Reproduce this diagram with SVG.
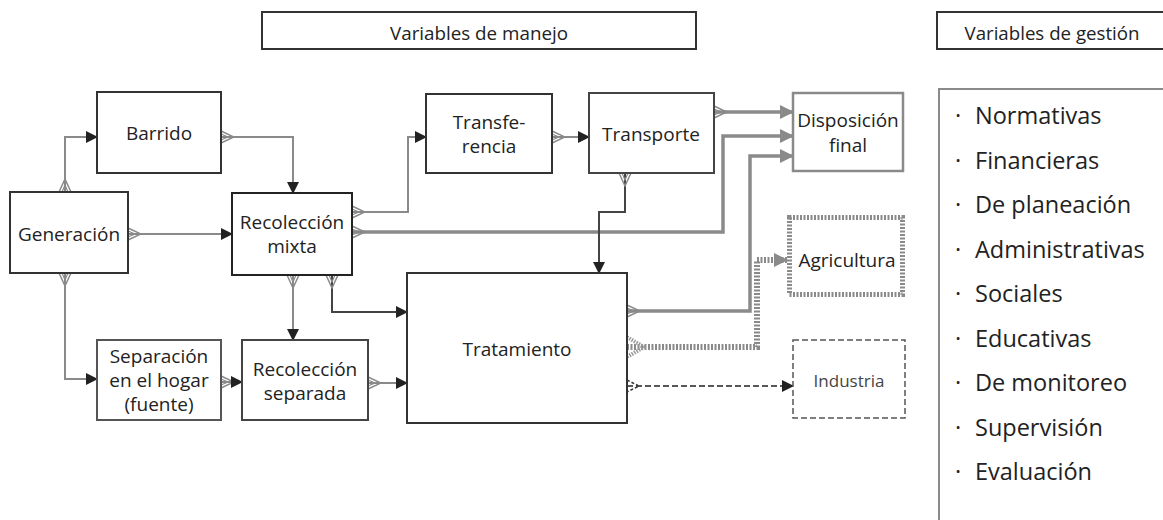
<svg xmlns="http://www.w3.org/2000/svg" width="1163" height="520" viewBox="0 0 1163 520">
<style>
text{font-family:"Open Sans","Noto Sans","Liberation Sans",sans-serif;fill:#222;}
.n{font-size:19px;text-anchor:middle;}
.hd{font-size:19px;text-anchor:middle;}
.li{font-size:23.5px;}
.box{fill:#fff;stroke:#333;stroke-width:2;}
.ln{fill:none;stroke:#8a8a8a;stroke-width:2;marker-start:url(#open);marker-end:url(#ab);}
.dk{fill:none;stroke:#444;stroke-width:2;marker-start:url(#open);marker-end:url(#ab);}
.th{fill:none;stroke:#8a8a8a;stroke-width:3.5;marker-end:url(#ag);}
</style>
<defs>
<marker id="ab" markerUnits="userSpaceOnUse" viewBox="0 0 12 12" markerWidth="12" markerHeight="12" refX="11" refY="6" orient="auto"><path d="M0,0 L12,6 L0,12 z" fill="#222"/></marker>
<marker id="ag" markerUnits="userSpaceOnUse" viewBox="0 0 14 14" markerWidth="14" markerHeight="14" refX="13" refY="7" orient="auto"><path d="M0,0 L14,7 L0,14 z" fill="#8a8a8a"/></marker>
<marker id="open" markerUnits="userSpaceOnUse" viewBox="-1 -1 15 14" markerWidth="15" markerHeight="14" refX="0" refY="6" orient="auto"><path d="M0,0 L13,6 L0,12" fill="none" stroke="#8a8a8a" stroke-width="1.5"/><path d="M0,3 L7,6 L0,9" fill="none" stroke="#8a8a8a" stroke-width="1.2"/></marker>
<marker id="openHatch" markerUnits="userSpaceOnUse" viewBox="-1 -1 20 22" markerWidth="20" markerHeight="22" refX="0" refY="10" orient="auto"><path d="M0,0 L17,10 L0,20" fill="none" stroke="#9a9a9a" stroke-width="4" stroke-dasharray="1.5 1.2"/></marker>
<marker id="openDash" markerUnits="userSpaceOnUse" viewBox="-1 -1 15 14" markerWidth="15" markerHeight="14" refX="0" refY="6" orient="auto"><path d="M0,0 L12,6 L0,12" fill="none" stroke="#333" stroke-width="1.5" stroke-dasharray="3 2"/></marker>
</defs>

<g id="header-manejo">
<rect x="262" y="12" width="434" height="37" fill="#fff" stroke="#333" stroke-width="2"/>
<text class="hd" x="479" y="40" textLength="178" lengthAdjust="spacingAndGlyphs">Variables de manejo</text>
</g>
<g id="header-gestion">
<rect x="937" y="12" width="230" height="37" fill="#fff" stroke="#333" stroke-width="2"/>
<text class="hd" x="1052" y="40" textLength="175" lengthAdjust="spacingAndGlyphs">Variables de gestión</text>
</g>

<g id="connectors">
<path class="ln" d="M65,192 V137 H97"/>
<path class="ln" d="M221,137 H293 V193"/>
<path class="ln" d="M128,234 H232"/>
<path class="ln" d="M65,273 V379 H97"/>
<path class="ln" d="M352,212 H408 V137 H426" stroke="#a0a0a0"/>
<path class="th" d="M352,232 H723 V136 H793" style="marker-start:url(#open)"/>
<path class="ln" d="M552,137 H589"/>
<path class="th" d="M714,112 H793" style="marker-start:url(#open)"/>
<path class="dk" d="M625,173 V212 H599 V273"/>
<path class="ln" d="M293,275 V340"/>
<path class="dk" d="M332,275 V312 H407"/>
<path class="ln" d="M221,382 H242"/>
<path class="ln" d="M368,383 H407"/>
<path class="th" d="M627,311 H750 V156 H793" style="marker-start:url(#open)"/>
<path d="M627,347 H757 V260 H787" fill="none" stroke="#8a8a8a" stroke-width="6" stroke-dasharray="2 1.5" marker-start="url(#openHatch)" marker-end="url(#ag)"/>
<path d="M627,386 H793" fill="none" stroke="#222" stroke-width="1.6" stroke-dasharray="6 3" marker-start="url(#openDash)" marker-end="url(#ab)"/>
</g>

<g id="node-generacion">
<rect class="box" x="10" y="192" width="118" height="81"/>
<text class="n" x="69" y="241">Generación</text>
</g>
<g id="node-barrido">
<rect class="box" x="97" y="92" width="124" height="81"/>
<text class="n" x="159" y="140">Barrido</text>
</g>
<g id="node-recoleccion-mixta">
<rect class="box" x="232" y="193" width="120" height="82" style="stroke:#222"/>
<text class="n" x="292" y="229">Recolección</text>
<text class="n" x="292" y="253">mixta</text>
</g>
<g id="node-transferencia">
<rect class="box" x="426" y="94" width="126" height="79"/>
<text class="n" x="489" y="129">Transfe-</text>
<text class="n" x="489" y="153">rencia</text>
</g>
<g id="node-transporte">
<rect class="box" x="589" y="93" width="125" height="80" style="stroke:#444"/>
<text class="n" x="651" y="141">Transporte</text>
</g>
<g id="node-disposicion">
<rect x="793" y="93" width="110" height="78" fill="#fff" stroke="#8a8a8a" stroke-width="2.5"/>
<text class="n" x="848" y="127">Disposición</text>
<text class="n" x="848" y="152">final</text>
</g>
<g id="node-agricultura">
<rect x="789.5" y="217.5" width="113" height="77" fill="#fff" stroke="#8a8a8a" stroke-width="5" stroke-dasharray="2 1.5"/>
<text class="n" x="847" y="267">Agricultura</text>
</g>
<g id="node-industria">
<rect x="793" y="340" width="112" height="78" fill="#fff" stroke="#555" stroke-width="1.5" stroke-dasharray="6 3"/>
<text class="n" x="849" y="387" style="font-size:17px;fill:#444">Industria</text>
</g>
<g id="node-separacion">
<rect class="box" x="97" y="340" width="124" height="80" style="stroke:#555"/>
<text class="n" x="159" y="363">Separación</text>
<text class="n" x="159" y="387">en el hogar</text>
<text class="n" x="159" y="411">(fuente)</text>
</g>
<g id="node-recoleccion-separada">
<rect class="box" x="242" y="340" width="126" height="80" style="stroke:#444"/>
<text class="n" x="305" y="376">Recolección</text>
<text class="n" x="305" y="400">separada</text>
</g>
<g id="node-tratamiento">
<rect class="box" x="407" y="273" width="220" height="150"/>
<text class="n" x="517" y="356">Tratamiento</text>
</g>

<g id="list-gestion">
<path d="M939,522 V89 H1165" fill="none" stroke="#8a8a8a" stroke-width="2"/>
<text class="li" y="124"><tspan x="955">·</tspan><tspan x="975">Normativas</tspan></text>
<text class="li" y="169"><tspan x="955">·</tspan><tspan x="975">Financieras</tspan></text>
<text class="li" y="213"><tspan x="955">·</tspan><tspan x="975">De planeación</tspan></text>
<text class="li" y="258"><tspan x="955">·</tspan><tspan x="975">Administrativas</tspan></text>
<text class="li" y="302"><tspan x="955">·</tspan><tspan x="975">Sociales</tspan></text>
<text class="li" y="347"><tspan x="955">·</tspan><tspan x="975">Educativas</tspan></text>
<text class="li" y="391"><tspan x="955">·</tspan><tspan x="975">De monitoreo</tspan></text>
<text class="li" y="436"><tspan x="955">·</tspan><tspan x="975">Supervisión</tspan></text>
<text class="li" y="480"><tspan x="955">·</tspan><tspan x="975">Evaluación</tspan></text>
</g>
</svg>
